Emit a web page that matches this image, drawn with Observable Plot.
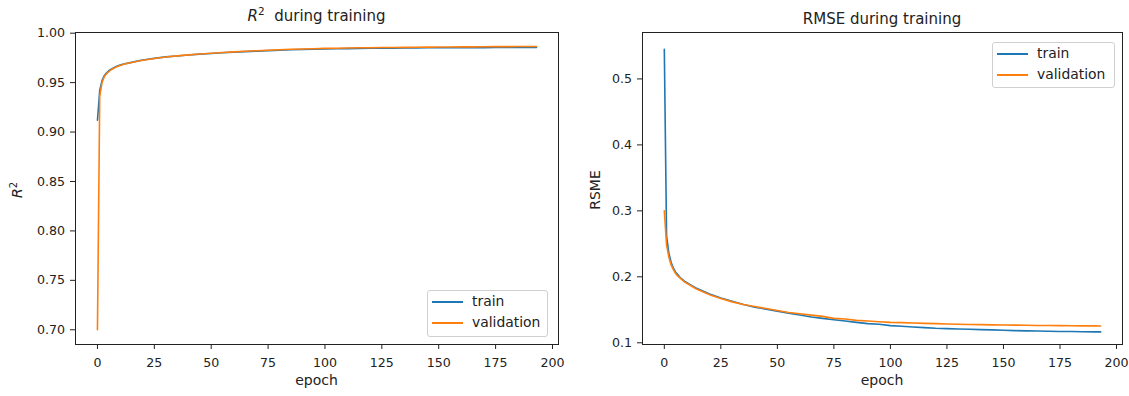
<!DOCTYPE html>
<html><head><meta charset="utf-8">
<script src="https://cdn.jsdelivr.net/npm/d3@7"></script>
<script src="https://cdn.jsdelivr.net/npm/@observablehq/plot@0.6"></script>
<style>
body{margin:0;background:#fff;font-family:"DejaVu Sans",sans-serif;color:#222}
#wrap{position:relative;width:1129px;height:396px;overflow:hidden;background:#fff}
.p{position:absolute;top:0}
.lg{position:absolute;border:1px solid #d0d0d0;border-radius:3px;background:rgba(255,255,255,0.85);box-sizing:border-box}
.sw{position:absolute;height:2px;width:31px}
.lt{position:absolute;font-size:13.9px;line-height:1;white-space:nowrap;color:#222}
#ov{position:absolute;left:0;top:0;pointer-events:none}
</style></head><body><div id="wrap"></div>
<script>
// epochs at which values were read
const epochs = [0,1,2,3,4,5,6,7,8,9,10,12,14,16,18,20,25,30,35,40,45,50,55,60,65,70,75,80,85,90,95,100,105,110,115,120,125,130,135,140,145,150,155,160,165,170,175,180,185,190,193];
const r2Train = [0.912,0.942,0.952,0.957,0.960,0.962,0.9635,0.9648,0.966,0.967,0.9678,0.969,0.970,0.971,0.972,0.9728,0.9745,0.976,0.977,0.978,0.9788,0.9795,0.9802,0.9808,0.9814,0.9819,0.9824,0.9828,0.9832,0.9835,0.9838,0.984,0.9842,0.9844,0.9846,0.9847,0.9848,0.9849,0.985,0.9851,0.9852,0.9852,0.9853,0.9853,0.9854,0.9854,0.9855,0.9855,0.9855,0.9856,0.9856];
const r2Val = [0.700,0.936,0.950,0.956,0.959,0.961,0.963,0.9643,0.9655,0.9665,0.9674,0.9688,0.9699,0.9709,0.9718,0.9726,0.9744,0.9759,0.9771,0.9781,0.979,0.9797,0.9805,0.9811,0.9818,0.9823,0.9828,0.9833,0.9837,0.984,0.9843,0.9846,0.9848,0.985,0.9852,0.9853,0.9855,0.9856,0.9857,0.9858,0.9859,0.986,0.9861,0.9862,0.9862,0.9863,0.9864,0.9864,0.9865,0.9865,0.9866];
const rmseTrain = [0.545,0.262,0.236,0.222,0.213,0.207,0.203,0.199,0.196,0.193,0.191,0.187,0.183,0.180,0.177,0.174,0.168,0.163,0.158,0.154,0.151,0.148,0.145,0.142,0.139,0.137,0.135,0.133,0.131,0.129,0.128,0.126,0.125,0.124,0.123,0.122,0.1215,0.121,0.1205,0.120,0.1195,0.119,0.1185,0.118,0.1178,0.1175,0.1172,0.117,0.1168,0.1166,0.1165];
const rmseVal = [0.300,0.248,0.230,0.218,0.211,0.205,0.201,0.198,0.195,0.192,0.190,0.186,0.182,0.179,0.176,0.173,0.167,0.162,0.158,0.155,0.152,0.149,0.146,0.144,0.142,0.140,0.137,0.136,0.134,0.133,0.132,0.131,0.1305,0.130,0.1295,0.129,0.1285,0.128,0.1278,0.1275,0.1272,0.127,0.1268,0.1265,0.1263,0.1262,0.126,0.1258,0.1257,0.1256,0.1255];
const seriesNames = ["train","validation"];
const seriesColors = ["#1f77b4","#ff7f0e"];
const xTicks = [0,25,50,75,100,125,150,175,200];
const r2Ticks = [0.70,0.75,0.80,0.85,0.90,0.95,1.00];
const rmseTicks = [0.1,0.2,0.3,0.4,0.5];

const rowsOf = (a, b) => [
  ...epochs.map((e,i)=>({epoch:e, value:a[i], series:seriesNames[0]})),
  ...epochs.map((e,i)=>({epoch:e, value:b[i], series:seriesNames[1]}))
];

const wrap = document.getElementById("wrap");
const style = {fontFamily:"DejaVu Sans, sans-serif", fontSize:"12.6px", color:"#222", background:"transparent", overflow:"visible"};

function panel(rows, yDomain, yTicks, fmt, opts){
  return Plot.plot({
    width: opts.width, height: 396,
    marginLeft: opts.ml, marginRight: opts.mr, marginTop: 32, marginBottom: 52,
    style,
    x: {domain: [-9.65, 202.65]},
    y: {domain: yDomain},
    color: {domain: seriesNames, range: seriesColors},
    marks: [
      Plot.line(rows, {x:"epoch", y:"value", stroke:"series", z:"series", strokeWidth:1.6}),
      Plot.frame({stroke:"#222", strokeWidth:1}),
      Plot.axisX({ticks: xTicks, tickSize:5, tickPadding:9, label:null, stroke:"#222"}),
      Plot.axisY({ticks: yTicks, tickFormat: fmt, tickSize:5, tickPadding:5.5, label:null, stroke:"#222"})
    ]
  });
}

const left = panel(rowsOf(r2Train, r2Val), [0.6851, 1.0007], r2Ticks, d3.format(".2f"), {width:565, ml:75, mr:7});
left.classList.add("p"); left.style.left = "0px";
const right = panel(rowsOf(rmseTrain, rmseVal), [0.0974, 0.5704], rmseTicks, d3.format(".1f"), {width:564, ml:77, mr:7});
right.classList.add("p"); right.style.left = "565px";
wrap.appendChild(left); wrap.appendChild(right);

// legends
function legend(x, y, w, h){
  const d = document.createElement("div");
  d.className = "lg";
  d.style.left = x+"px"; d.style.top = y+"px"; d.style.width = w+"px"; d.style.height = h+"px";
  seriesNames.forEach((n,i)=>{
    const cy = 10.5 + i*21.5;
    const s = document.createElement("div");
    s.className = "sw"; s.style.left = "4px"; s.style.top = (cy-1)+"px"; s.style.background = seriesColors[i];
    d.appendChild(s);
    const t = document.createElement("div");
    t.className = "lt"; t.style.left = "44px"; t.style.top = (cy-7)+"px"; t.textContent = n;
    d.appendChild(t);
  });
  wrap.appendChild(d);
}
legend(427, 290, 121, 47);
legend(992, 42, 123, 46);

// titles and axis labels
const ns = "http://www.w3.org/2000/svg";
const ov = document.createElementNS(ns, "svg");
ov.setAttribute("id","ov"); ov.setAttribute("width",1129); ov.setAttribute("height",396);
ov.innerHTML = `
<g font-family="DejaVu Sans, sans-serif" fill="#222">
 <text x="316.5" y="21" text-anchor="middle" font-size="15"><tspan font-style="italic">R</tspan><tspan dy="-6" font-size="10.5">2</tspan><tspan dy="6" xml:space="preserve">  during training</tspan></text>
 <text x="882" y="24" text-anchor="middle" font-size="15">RMSE during training</text>
 <text x="316.5" y="385" text-anchor="middle" font-size="14">epoch</text>
 <text x="882" y="385" text-anchor="middle" font-size="14">epoch</text>
 <text transform="translate(22,190) rotate(-90)" text-anchor="middle" font-size="14"><tspan font-style="italic">R</tspan><tspan dy="-5.5" font-size="10">2</tspan></text>
 <text transform="translate(600,190) rotate(-90)" text-anchor="middle" font-size="14">RSME</text>
</g>`;
wrap.appendChild(ov);
</script>
</body></html>
